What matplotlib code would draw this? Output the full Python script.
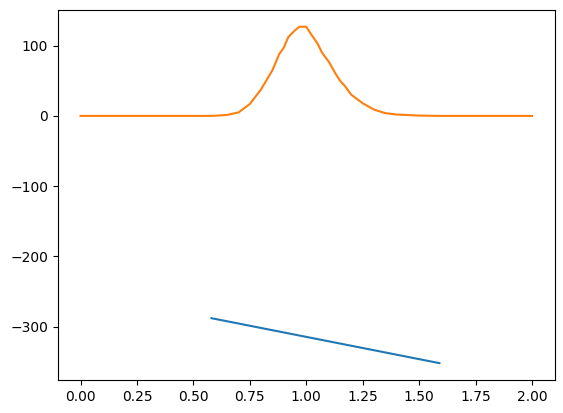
import matplotlib
matplotlib.use("Agg")
import matplotlib.pyplot as plt

# orange curve
curve_x = [0.0, 0.2, 0.4, 0.55, 0.6, 0.65, 0.7, 0.75, 0.8, 0.85, 0.88, 0.9, 0.92,
           0.95, 0.97, 1.0, 1.02, 1.05, 1.07, 1.1, 1.13, 1.15, 1.17, 1.2, 1.25,
           1.3, 1.35, 1.4, 1.5, 1.6, 1.8, 2.0]
curve_y = [0, 0, 0, 0, 0.3, 1.5, 5, 17, 38, 65, 88, 97, 112,
           122, 127, 127, 117, 103, 90, 77, 60, 50, 43, 30, 18,
           9, 4, 2, 0.5, 0, 0, 0]

# blue segment
line_x = [0.58, 1.59]
line_y = [-288, -352]

fig = plt.figure(figsize=(5.63, 4.13), dpi=100)
ax = fig.add_axes([0.103, 0.08, 0.882, 0.896])
ax.plot(line_x, line_y, color="#1f77b4")
ax.plot(curve_x, curve_y, color="#ff7f0e")
ax.set_xticks([0, 0.25, 0.5, 0.75, 1.0, 1.25, 1.5, 1.75, 2.0])
ax.set_yticks([-300, -200, -100, 0, 100])
fig.savefig("out.png", dpi=100)
